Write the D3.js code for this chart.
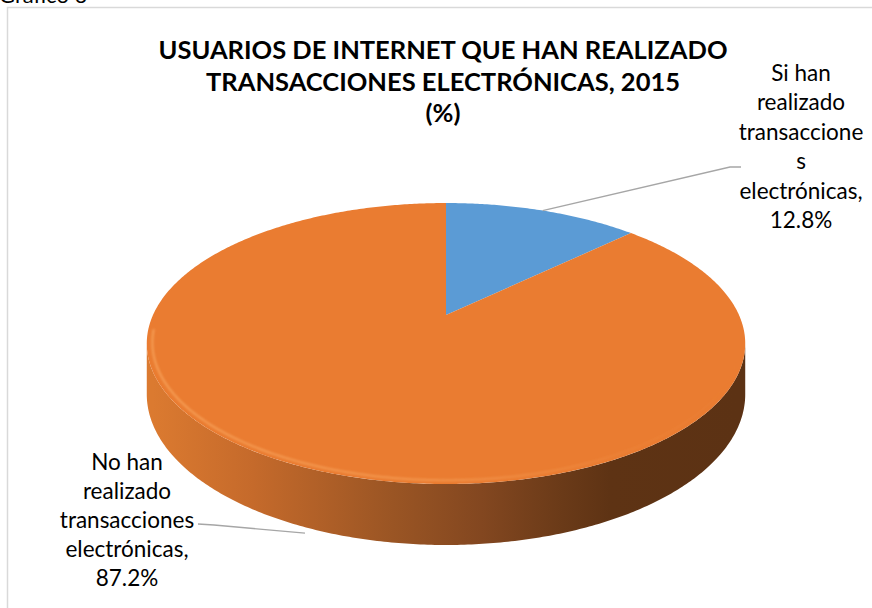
<!DOCTYPE html>
<html>
<head>
<meta charset="utf-8">
<script src="https://cdn.jsdelivr.net/npm/d3@7"></script>
<style>
  body { margin: 0; background: #fff; }
  svg { display: block; }
  text { font-family: Lato, "Open Sans", sans-serif; fill: #000; }
</style>
</head>
<body>
<svg id="chart" width="872" height="608"></svg>
<script>
// chart data
const categories = ["Si han realizado transacciones electrónicas", "No han realizado transacciones electrónicas"];
const values = [12.8, 87.2];
const colors = ["#5B9BD5", "#EA7C31"];
const labelLines = [
  ["Si han", "realizado", "transaccione", "s", "electrónicas,", "12.8%"],
  ["No han", "realizado", "transacciones", "electrónicas,", "87.2%"]
];
const titleLines = ["USUARIOS DE INTERNET QUE HAN REALIZADO", "TRANSACCIONES ELECTRÓNICAS, 2015", "(%)"];

const svg = d3.select("#chart");
const defs = svg.append("defs");

// frame + caption above it (cut by the page top, as in the source)
svg.append("text")
  .attr("x", -1).attr("y", 3)
  .attr("font-size", 22)
  .text("Gráfico 6");

svg.append("rect")
  .attr("x", 7.5).attr("y", 7.5)
  .attr("width", 900).attr("height", 700)
  .attr("fill", "#fff")
  .attr("stroke", "#D9D9D9")
  .attr("stroke-width", 1.5);

// title
svg.append("g")
  .selectAll("text")
  .data(titleLines)
  .enter()
  .append("text")
  .attr("x", 443)
  .attr("y", (d, i) => 59 + i * 31.5)
  .attr("text-anchor", "middle")
  .attr("font-size", 25.5)
  .attr("font-weight", "bold")
  .text((d) => d);

// 3d pie with a bit of perspective
const cx = 446, cy = 315;
const rx = 293, ry = 134.7;
const persp = -0.203;
const depth = 48.6;

function proj(angle, r, drop) {
  const c = r * Math.sin(angle);
  const s = -r * Math.cos(angle);
  const den = 1 + persp * s;
  return [cx + (rx * c) / den, cy + (ry * s) / den + (drop * depth) / den];
}

function rim(a0, a1, r, drop) {
  const n = Math.max(2, Math.ceil(Math.abs(a1 - a0) / 0.01));
  return d3.range(n + 1).map((i) => proj(a0 + ((a1 - a0) * i) / n, r, drop));
}

const arcs = d3.pie().sort(null).value((d) => d)(values);

// side wall gradient
const sideGrad = defs.append("linearGradient")
  .attr("id", "side")
  .attr("gradientUnits", "userSpaceOnUse")
  .attr("x1", cx - rx).attr("x2", cx + rx)
  .attr("y1", 0).attr("y2", 0);
[
  [0, "#DB7A30"], [0.17, "#C56A2B"], [0.41, "#9A5524"],
  [0.56, "#834720"], [0.70, "#6A3A18"], [0.78, "#5E3314"], [1, "#5C3214"]
].forEach((s) => sideGrad.append("stop").attr("offset", s[0]).attr("stop-color", s[1]));

// highlight fades out toward the right
const hiGrad = defs.append("linearGradient")
  .attr("id", "hilite")
  .attr("gradientUnits", "userSpaceOnUse")
  .attr("x1", cx - rx).attr("x2", cx + rx)
  .attr("y1", 0).attr("y2", 0);
[[0, 0.9], [0.45, 0.7], [0.8, 0.15], [1, 0]].forEach((s) =>
  hiGrad.append("stop").attr("offset", s[0]).attr("stop-color", "#F7A25A").attr("stop-opacity", s[1]));

defs.append("filter").attr("id", "soft")
  .append("feGaussianBlur").attr("stdDeviation", 1.3);

// visible part of the wall (between left and right silhouette)
const visR = Math.acos(persp);
const visL = 2 * Math.PI - visR;
const line = d3.line();

svg.append("g")
  .selectAll("path")
  .data(arcs)
  .enter()
  .append("path")
  .attr("d", (d) => {
    const lo = Math.max(d.startAngle, visR);
    const hi = Math.min(d.endAngle, visL);
    if (hi <= lo) return null;
    const pts = rim(lo, hi, 1, 0).concat(rim(hi, lo, 1, 1));
    return line(pts) + "Z";
  })
  .attr("fill", (d, i) => (i === 1 ? "url(#side)" : d3.color(colors[i]).darker(1)));

// top face
svg.append("g")
  .selectAll("path")
  .data(arcs)
  .enter()
  .append("path")
  .attr("d", (d) => line([proj(0, 0, 0)].concat(rim(d.startAngle, d.endAngle, 1, 0))) + "Z")
  .attr("fill", (d, i) => colors[i]);

// bevel highlight along the front rim
svg.append("path")
  .attr("d", line(rim(visR, visL + 0.1, 0.982, 0)))
  .attr("fill", "none")
  .attr("stroke", "url(#hilite)")
  .attr("stroke-width", 2)
  .attr("filter", "url(#soft)");

// leader lines
const blueStart = proj((arcs[0].startAngle + arcs[0].endAngle) / 2, 1, 0);
const orangeStart = proj((arcs[1].startAngle + arcs[1].endAngle) / 2, 1, 1.1);
svg.append("path")
  .attr("d", line([blueStart, [730, 167], [741, 167]]))
  .attr("fill", "none").attr("stroke", "#A6A6A6").attr("stroke-width", 1.3);
svg.append("path")
  .attr("d", line([orangeStart, [214, 525], [198, 524]]))
  .attr("fill", "none").attr("stroke", "#A6A6A6").attr("stroke-width", 1.3);

// data labels
const labelPos = [[801, 81, 29.4], [127, 470, 29]];
labelLines.forEach((lines, k) => {
  svg.append("g")
    .selectAll("text")
    .data(lines)
    .enter()
    .append("text")
    .attr("x", labelPos[k][0])
    .attr("y", (d, i) => labelPos[k][1] + i * labelPos[k][2])
    .attr("text-anchor", "middle")
    .attr("font-size", 22.5)
    .text((d) => d);
});
</script>
</body>
</html>
